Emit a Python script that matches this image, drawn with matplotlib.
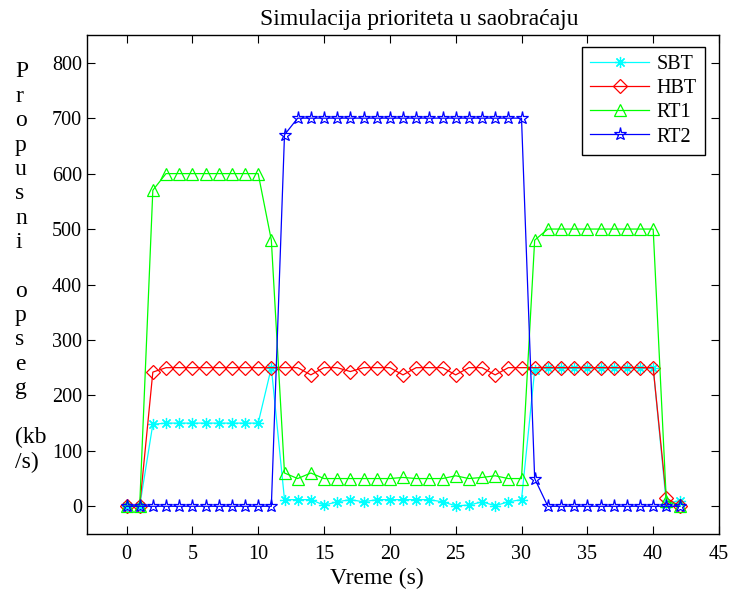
import matplotlib
matplotlib.use('Agg')
import matplotlib.pyplot as plt

plt.rcParams['font.family'] = ['Liberation Serif', 'DejaVu Serif']

# Data (time in s, throughput in kb/s)
vreme = list(range(43))
sbt = [0, 0, 148, 150, 150, 150, 150, 150, 150, 150, 150, 250,
       12, 12, 12, 2, 8, 12, 8, 12, 12, 12, 12, 12, 8, 1, 2, 8, 1, 8, 12,
       245, 250, 250, 250, 250, 250, 250, 250, 250, 250, 5, 10]
hbt = [0, 0, 242, 250, 250, 250, 250, 250, 250, 250, 250, 250,
       250, 250, 237, 250, 250, 243, 250, 250, 250, 237, 250, 250, 250,
       237, 250, 250, 237, 250, 250,
       250, 250, 250, 250, 250, 250, 250, 250, 250, 250, 15, 0]
rt1 = [0, 0, 570, 600, 600, 600, 600, 600, 600, 600, 600, 480,
       60, 50, 60, 50, 50, 50, 50, 50, 50, 52, 50, 50, 50, 55, 50, 52, 55, 50, 50,
       480, 500, 500, 500, 500, 500, 500, 500, 500, 500, 10, 0]
rt2 = [0] * 12 + [670] + [700] * 18 + [50] + [0] * 11

fig = plt.figure(figsize=(7.36, 5.94), dpi=100)
ax = fig.add_axes([87 / 736, 1 - 534 / 594, 632 / 736, 499 / 594])

lw = 0.9
ax.plot(vreme, sbt, color=(0, 1, 1), lw=lw, marker=(8, 2, 0), ms=8, mew=0.9, label='SBT')
ax.plot(vreme, hbt, color=(1, 0, 0), lw=lw, marker='D', ms=7.5, mfc='none', mew=0.9, label='HBT')
ax.plot(vreme, rt1, color=(0, 1, 0), lw=lw, marker='^', ms=8.5, mfc='none', mew=0.9, label='RT1')
ax.plot(vreme, rt2, color=(0, 0, 1), lw=lw, marker='*', ms=9.5, mfc='none', mew=0.9, label='RT2')

ax.set_xlim(-3, 45)
ax.set_ylim(-50, 850)
ax.set_xticks(range(0, 46, 5))
ax.set_yticks(range(0, 801, 100))
ax.tick_params(direction='in', top=True, right=True, labelsize=14.5, length=6, width=0.8)
ax.tick_params(axis='x', pad=8)
ax.tick_params(axis='y', pad=3.5)
for s in ax.spines.values():
    s.set_linewidth(1.0)

fig.text(419 / 736, 1 - 20 / 594, 'Simulacija prioriteta u saobraćaju',
         ha='center', va='center', fontsize=17)
fig.text(377 / 736, 1 - 578 / 594, 'Vreme (s)', ha='center', va='center', fontsize=17)

ylab = 'P\nr\no\np\nu\ns\nn\ni\n\no\np\ns\ne\ng\n\n(kb\n/s)'
fig.text(15 / 736, 1 - 267 / 594, ylab, ha='left', va='center',
         multialignment='left', fontsize=17, linespacing=1.21)

leg = ax.legend(loc='upper right', bbox_to_anchor=(0.978, 0.976), borderaxespad=0,
                fontsize=14.5, fancybox=False, framealpha=1, edgecolor='black',
                handlelength=2.9, handletextpad=0.4, labelspacing=0.25, borderpad=0.4)
leg.get_frame().set_linewidth(1.0)

fig.savefig('out.png', dpi=100)
